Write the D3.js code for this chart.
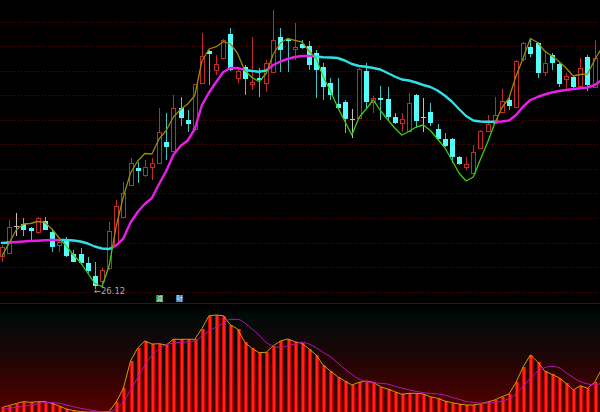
<!DOCTYPE html>
<html><head><meta charset="utf-8">
<script src="https://cdn.jsdelivr.net/npm/d3@7"></script>
<style>html,body{margin:0;padding:0;background:#000;}svg{display:block;}</style>
</head><body>
<svg id="c" width="600" height="412"></svg>
<script>
// ---- data ----
const openP = [29.40,29.75,32.40,32.65,32.17,31.80,32.90,31.83,30.50,31.00,
 29.57,29.57,28.73,27.45,26.90,28.20,30.60,33.33,36.50,38.17,
 37.50,38.27,38.73,40.83,39.93,44.17,43.00,42.07,46.73,49.90,
 48.00,49.17,51.57,47.17,48.27,46.57,47.20,46.67,47.83,51.33,
 51.07,50.13,50.57,50.40,49.73,48.33,46.67,44.57,44.83,43.07,
 43.17,47.93,44.83,45.17,45.07,43.27,42.67,41.93,45.50,43.33,
 43.83,42.07,41.07,41.07,39.33,38.33,37.73,40.17,41.93,42.73,
 43.83,45.00,44.30,49.07,50.33,50.67,47.83,49.50,48.60,47.07,
 47.27,46.40,49.27,46.33,48.00];
const closeP = [30.30,32.30,32.40,32.05,31.90,33.17,32.05,30.30,30.83,29.40,
 28.83,28.75,27.90,26.40,28.00,31.90,34.40,35.73,38.67,37.93,
 38.27,38.67,41.83,40.33,44.17,43.17,42.60,46.57,49.40,49.60,
 48.57,51.00,48.00,47.93,47.13,46.77,47.05,48.67,51.00,50.00,
 50.87,50.33,50.23,48.50,48.00,46.27,45.50,44.23,43.07,43.07,
 48.07,44.83,45.23,45.05,43.33,42.73,43.07,44.73,42.93,43.33,
 42.67,41.07,40.40,39.27,38.60,38.57,39.83,41.90,42.57,43.50,
 44.90,44.40,48.90,50.67,49.60,47.73,48.73,48.73,46.60,47.40,
 46.33,48.23,46.50,49.17,51.80];
const highP = [30.50,33.00,33.70,33.25,32.33,33.30,33.30,32.00,31.20,31.30,
 30.00,30.25,29.33,28.80,28.20,32.80,35.00,36.83,39.17,38.83,
 39.00,39.17,44.17,43.67,45.50,45.27,44.00,46.60,51.67,50.00,
 49.50,51.07,52.17,48.10,48.50,51.33,48.17,49.00,54.00,52.17,
 51.15,52.73,51.00,50.93,50.00,48.70,47.17,47.17,45.00,44.07,
 48.20,48.73,45.40,46.40,46.33,43.73,43.70,45.67,45.60,45.25,
 44.73,42.60,41.73,41.20,39.40,39.30,40.50,42.00,43.50,45.30,
 46.07,45.40,49.00,50.80,51.17,50.80,49.83,49.70,48.70,47.67,
 47.40,49.17,49.50,51.00,52.20];
const lowP = [28.80,29.70,31.40,31.40,31.00,31.60,32.00,29.83,29.80,29.30,
 28.80,28.50,27.70,26.12,26.35,28.00,30.40,33.20,36.40,36.67,
 37.33,37.00,38.67,39.00,39.85,42.40,41.83,42.00,46.67,46.50,
 47.50,49.10,47.95,46.67,45.50,46.00,45.33,45.83,47.80,47.83,
 47.83,49.00,50.15,48.00,45.17,45.00,45.00,44.20,41.73,41.20,
 43.10,44.20,43.70,43.00,43.00,42.60,41.83,41.90,42.17,41.83,
 42.40,41.00,40.30,38.67,38.50,38.00,37.70,40.10,41.80,42.60,
 43.70,44.00,44.20,48.90,49.33,47.17,47.40,48.00,46.27,46.07,
 46.00,46.30,45.93,46.20,47.80];
const maShort = [29.40,30.70,32.00,32.60,32.65,32.85,32.75,32.10,31.20,30.40,
 29.50,28.75,27.70,26.65,26.35,28.40,32.40,35.33,37.70,38.90,
 39.65,39.60,41.10,41.95,43.30,44.05,44.60,45.45,48.90,50.10,
 50.33,50.83,50.60,49.65,47.95,47.25,46.85,47.65,49.60,50.70,
 51.15,50.97,50.80,49.90,49.15,47.30,45.90,44.30,42.90,41.50,
 43.25,44.10,45.00,43.95,43.05,42.20,41.50,41.85,42.30,42.50,
 41.95,41.10,40.25,39.00,37.70,36.90,37.30,39.05,40.75,42.65,
 44.20,45.20,47.40,49.20,51.15,50.75,49.90,49.40,48.85,48.20,
 47.40,47.55,47.60,49.00,50.20];
const maLong = [30.70,30.75,30.80,30.85,30.90,30.93,30.97,31.00,31.00,31.00,
 30.95,30.85,30.65,30.35,30.15,30.10,30.45,31.17,32.75,33.80,
 34.60,35.20,36.60,37.90,39.50,40.40,40.95,42.10,44.50,45.75,
 46.80,47.80,48.20,48.20,48.00,47.90,47.83,47.95,48.50,48.85,
 49.10,49.30,49.40,49.40,49.35,49.27,49.25,49.20,48.95,48.60,
 48.40,48.32,48.20,48.05,47.70,47.35,47.05,46.95,46.75,46.50,
 46.30,45.95,45.45,44.85,44.10,43.40,42.95,42.85,42.83,42.83,
 42.85,42.95,43.50,44.35,45.00,45.30,45.55,45.75,45.90,46.00,
 46.10,46.17,46.25,46.50,47.00];
const ind = [4.5,6.5,8.5,10.3,9.7,10.3,10.3,8.7,6.0,3.0,
 1.5,0.5,0,0,0,0.5,10.0,23.7,51.0,64.0,
 71.0,68.0,68.3,67.0,72.7,72.7,72.7,72.7,83.5,96.3,
 97.0,96.3,87.0,83.0,69.7,63.7,59.3,59.7,66.3,71.0,
 73.0,70.3,68.7,63.0,57.0,46.7,41.0,35.3,31.0,27.0,
 29.7,31.0,29.7,25.3,23.0,20.3,17.7,18.7,18.7,18.0,
 15.3,13.7,11.0,9.3,8.0,7.0,7.0,8.3,10.0,12.0,
 15.3,18.0,29.7,45.3,57.0,50.3,41.0,37.7,34.3,28.7,
 22.0,26.3,23.7,29.7,43.0];
const indMa = [2.5,3.5,4.8,6.0,7.0,8.2,9.5,9.4,8.8,7.0,
 5.3,3.7,2.5,1.3,0,0,3.0,10.3,22.0,34.0,
 47.0,56.5,63.0,67.5,68.7,69.7,70.2,71.0,76.0,81.0,
 85.0,89.0,92.7,92.7,89.0,83.0,77.0,69.5,66.0,64.5,
 66.3,68.0,69.8,68.0,64.3,59.5,55.2,49.2,43.0,37.6,
 33.0,30.4,29.1,28.7,28.0,25.8,23.9,22.1,20.6,19.3,
 18.5,18.1,17.0,14.7,12.7,10.6,9.7,8.7,9.0,9.5,
 11.0,13.1,18.1,26.0,33.7,40.7,44.3,45.8,44.4,39.3,
 34.5,30.3,28.2,27.0,29.0];
const gridLevels = [52.83,50.38,47.92,45.47,43.02,40.56,38.11,35.66,33.20,30.75,28.30,25.84];
const tags = ["減","財"];

// ---- scales ----
const n = openP.length;
const idx = d3.range(n);
const svg = d3.select("#c");
const x = d3.scaleLinear().domain([0, n - 1]).range([2, 601.76]);
const y = d3.scaleLinear().domain([25, 55]).range([300, 0]);
const yI = d3.scaleLinear().domain([0, 109]).range([412, 303]);

svg.append("rect").attr("width",600).attr("height",412).attr("fill","#000");

// ---- bottom panel background ----
const defs = svg.append("defs");
const g = defs.append("linearGradient").attr("id","bg").attr("x1",0).attr("y1",0).attr("x2",0).attr("y2",1);
g.append("stop").attr("offset","0%").attr("stop-color","#000000");
g.append("stop").attr("offset","12%").attr("stop-color","#020a0a");
g.append("stop").attr("offset","45%").attr("stop-color","#190606");
g.append("stop").attr("offset","100%").attr("stop-color","#560000");
defs.append("clipPath").attr("id","mainclip").append("rect").attr("x",0).attr("y",0).attr("width",600).attr("height",302);
defs.append("clipPath").attr("id","subclip").append("rect").attr("x",0).attr("y",304).attr("width",600).attr("height",108);

svg.append("rect").attr("x",0).attr("y",yI(108)).attr("width",600).attr("height",412 - yI(108)).attr("fill","url(#bg)");
svg.append("line").attr("x1",0).attr("x2",600).attr("y1",yI(109)+0.5).attr("y2",yI(109)+0.5)
  .attr("stroke","#6e0000").attr("stroke-width",1);

// ---- grid ----
svg.append("g").selectAll("line").data(gridLevels).join("line")
  .attr("x1",0).attr("x2",600)
  .attr("y1",d=>Math.round(y(d))+0.5).attr("y2",d=>Math.round(y(d))+0.5)
  .attr("stroke","#6a0000").attr("stroke-width",1).attr("stroke-dasharray","1,2");

// ---- candles ----
const main = svg.append("g").attr("clip-path","url(#mainclip)");
const cg = main.append("g").attr("shape-rendering","crispEdges");
const kind = i => closeP[i] > openP[i] ? "up" : (closeP[i] < openP[i] ? "down" : "flat");
const cx = i => Math.round(x(i));
const RED = "#c42a2a", CYAN = "#54fcfc", CYANW = "#3cc4c4", GREY = "#c0c0c0";

cg.selectAll("line.w").data(idx).join("line").attr("class","w")
  .attr("x1",i=>cx(i)+0.5).attr("x2",i=>cx(i)+0.5)
  .attr("y1",i=>y(highP[i])).attr("y2",i=>y(lowP[i]))
  .attr("stroke",i=>kind(i)==="up"?RED:kind(i)==="down"?CYANW:GREY).attr("stroke-width",1);

cg.selectAll("rect.b").data(idx.filter(i=>kind(i)!=="flat")).join("rect").attr("class","b")
  .each(function(i){
    const top = y(Math.max(openP[i],closeP[i])), bot = y(Math.min(openP[i],closeP[i]));
    const s = d3.select(this);
    if (kind(i)==="up") {
      s.attr("x",cx(i)-2+0.5).attr("width",4).attr("y",Math.round(top)+0.5)
       .attr("height",Math.max(1,Math.round(bot)-Math.round(top)))
       .attr("fill","#000").attr("stroke",RED).attr("stroke-width",1);
    } else {
      s.attr("x",cx(i)-2).attr("width",5).attr("y",Math.round(top))
       .attr("height",Math.max(1,Math.round(bot)-Math.round(top)))
       .attr("fill",CYAN);
    }
  });
cg.selectAll("line.f").data(idx.filter(i=>kind(i)==="flat")).join("line").attr("class","f")
  .attr("x1",i=>cx(i)-2).attr("x2",i=>cx(i)+3)
  .attr("y1",i=>Math.round(y(closeP[i]))+0.5).attr("y2",i=>Math.round(y(closeP[i]))+0.5)
  .attr("stroke",GREY).attr("stroke-width",1);

// ---- moving averages, coloured by which one is on top ----
function runs(a, b) {
  const out = []; let cur = null;
  const st = i => a[i] >= b[i];
  for (let i = 0; i < n; i++) {
    const s = st(i);
    if (!cur) { cur = {s, pa:[[x(i),y(a[i])]], pb:[[x(i),y(b[i])]]}; continue; }
    if (s === cur.s) { cur.pa.push([x(i),y(a[i])]); cur.pb.push([x(i),y(b[i])]); }
    else {
      const d0 = a[i-1]-b[i-1], d1 = a[i]-b[i];
      const t = d0/(d0-d1);
      const xi = x(i-1+t), va = a[i-1]+(a[i]-a[i-1])*t, vb = b[i-1]+(b[i]-b[i-1])*t;
      cur.pa.push([xi,y(va)]); cur.pb.push([xi,y(vb)]); out.push(cur);
      cur = {s, pa:[[xi,y(va)],[x(i),y(a[i])]], pb:[[xi,y(vb)],[x(i),y(b[i])]]};
    }
  }
  out.push(cur); return out;
}
const R = runs(maShort, maLong);
const lineGen = d3.line();
main.append("g").selectAll("path").data(R).join("path")
  .attr("d",r=>lineGen(r.pb)).attr("fill","none")
  .attr("stroke",r=>r.s?"#e81ee8":"#2ee0e8").attr("stroke-width",2.4)
  .attr("stroke-linejoin","round").attr("stroke-linecap","round");
main.append("g").selectAll("path").data(R).join("path")
  .attr("d",r=>lineGen(r.pa)).attr("fill","none")
  .attr("stroke",r=>r.s?"#9a8a08":"#3ccc14").attr("stroke-width",1.3)
  .attr("stroke-linejoin","round");

// ---- lowest-low label ----
const iMin = d3.minIndex(lowP);
svg.append("text").attr("x",x(iMin)-1).attr("y",y(lowP[iMin])+5)
  .attr("font-family","DejaVu Sans, sans-serif").attr("font-size",8.5).attr("fill","#a8a8a8")
  .text("\u2190" + d3.format(".2f")(lowP[iMin]));

// ---- small tag boxes ----
const tagCol = ["#1f8a3a","#3b6494"];
const tg = svg.append("g");
tags.forEach((t,k)=>{
  const tx = x(22) - 3 + k*20;
  tg.append("rect").attr("x",tx).attr("y",295).attr("width",7).attr("height",7).attr("fill",tagCol[k]);
  tg.append("text").attr("x",tx+3.5).attr("y",301.3).attr("text-anchor","middle")
    .attr("font-family","Noto Sans CJK SC, sans-serif").attr("font-size",6.5).attr("fill","#e8f0e8").text(t);
});

// ---- bottom indicator ----
const sub = svg.append("g").attr("clip-path","url(#subclip)");
const bars = sub.append("g").attr("shape-rendering","crispEdges");
bars.selectAll("rect.o").data(idx.filter(i=>ind[i]>0)).join("rect").attr("class","o")
  .attr("x",i=>cx(i)-1.5).attr("width",4)
  .attr("y",i=>yI(ind[i])).attr("height",i=>yI(0)-yI(ind[i])).attr("fill","#d40000");
bars.selectAll("rect.i").data(idx.filter(i=>ind[i]>0)).join("rect").attr("class","i")
  .attr("x",i=>cx(i)-0.5).attr("width",2)
  .attr("y",i=>yI(ind[i])).attr("height",i=>yI(0)-yI(ind[i])).attr("fill","#ff2418");
sub.append("path").datum(idx).attr("fill","none").attr("stroke","#c8a200").attr("stroke-width",1)
  .attr("d",d3.line().x(i=>x(i)).y(i=>yI(ind[i])));
sub.append("path").datum(idx).attr("fill","none").attr("stroke","#b414b4").attr("stroke-width",1)
  .attr("d",d3.line().curve(d3.curveMonotoneX).x(i=>x(i)).y(i=>yI(indMa[i])));
</script>
</body></html>
